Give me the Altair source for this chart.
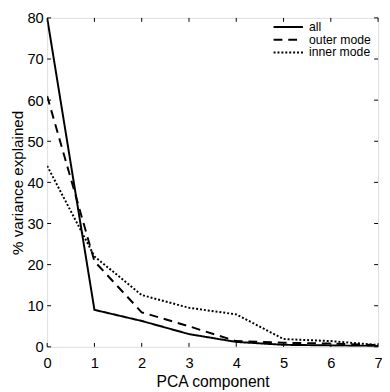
import altair as alt
import pandas as pd

# ---- data ----
components = [0, 1, 2, 3, 4, 5, 6, 7]
all_vals = [80.0, 9.0, 6.3, 3.1, 1.2, 0.5, 0.35, 0.2]
outer_vals = [61.0, 20.8, 8.4, 5.0, 1.4, 1.0, 0.8, 0.45]
inner_vals = [44.0, 22.0, 12.6, 9.5, 7.9, 1.9, 1.4, 0.45]
series_names = ["all", "outer mode", "inner mode"]
x_ticks = [0, 1, 2, 3, 4, 5, 6, 7]
y_ticks = [0, 10, 20, 30, 40, 50, 60, 70, 80]

FONT = "Liberation Sans"
W = 338
H = 336
TICK = 4

rows = []
for name, vals in zip(series_names, [all_vals, outer_vals, inner_vals]):
    for c, v in zip(components, vals):
        rows.append({"component": c, "variance": v, "series": name})
df = pd.DataFrame(rows)

xscale = alt.Scale(domain=[0, 7], nice=False, zero=False)
yscale = alt.Scale(domain=[0, 80], nice=False)

x_axis = alt.Axis(values=x_ticks, title="PCA component", grid=False, ticks=False,
                  tickSize=0, domain=False, labelPadding=9, titlePadding=3,
                  labelFlush=False,
                  labelFontSize=15, titleFontSize=16, labelFont=FONT, titleFont=FONT,
                  labelColor="black", titleColor="black", titleFontWeight="normal",
                  format="d")
y_axis = alt.Axis(values=y_ticks, title="% variance explained", grid=False, ticks=False,
                  tickSize=0, domain=False, labelPadding=4, titlePadding=1,
                  labelFlush=False,
                  labelFontSize=15, titleFontSize=15.5, labelFont=FONT, titleFont=FONT,
                  labelColor="black", titleColor="black", titleFontWeight="normal",
                  format="d")

lines = alt.Chart(df).mark_line(color="black", strokeWidth=2, clip=True).encode(
    x=alt.X("component:Q", scale=xscale, axis=x_axis),
    y=alt.Y("variance:Q", scale=yscale, axis=y_axis),
    strokeDash=alt.StrokeDash(
        "series:N",
        scale=alt.Scale(domain=series_names, range=[[1, 0], [9, 6], [2, 2]]),
        legend=alt.Legend(title=None, orient="none", legendX=240, legendY=3,
                          symbolType="M-3,0H3", symbolSize=100, symbolStrokeWidth=2,
                          symbolStrokeColor="black", labelFontSize=12.5, labelFont=FONT,
                          labelColor="black", labelOffset=15, padding=0, rowPadding=0),
    ),
)

tx = pd.DataFrame({"component": x_ticks})
ty = pd.DataFrame({"variance": y_ticks})

tick_bottom = alt.Chart(tx).mark_rule(color="black", strokeWidth=1).encode(
    x=alt.X("component:Q", scale=xscale), y=alt.value(H), y2=alt.value(H - TICK))
tick_top = alt.Chart(tx).mark_rule(color="black", strokeWidth=1).encode(
    x=alt.X("component:Q", scale=xscale), y=alt.value(0), y2=alt.value(TICK))
tick_left = alt.Chart(ty).mark_rule(color="black", strokeWidth=1).encode(
    y=alt.Y("variance:Q", scale=yscale), x=alt.value(0), x2=alt.value(TICK))
tick_right = alt.Chart(ty).mark_rule(color="black", strokeWidth=1).encode(
    y=alt.Y("variance:Q", scale=yscale), x=alt.value(W - TICK), x2=alt.value(W))

chart = alt.layer(lines, tick_bottom, tick_top, tick_left, tick_right).properties(
    width=W, height=H,
    autosize=alt.AutoSizeParams(type="none"),
    padding={"left": 40, "top": 6, "right": 4, "bottom": 42},
).configure_view(stroke="black", strokeWidth=1).configure(background="white")

chart.save("out.html", embed_options={"renderer": "svg", "actions": False})
